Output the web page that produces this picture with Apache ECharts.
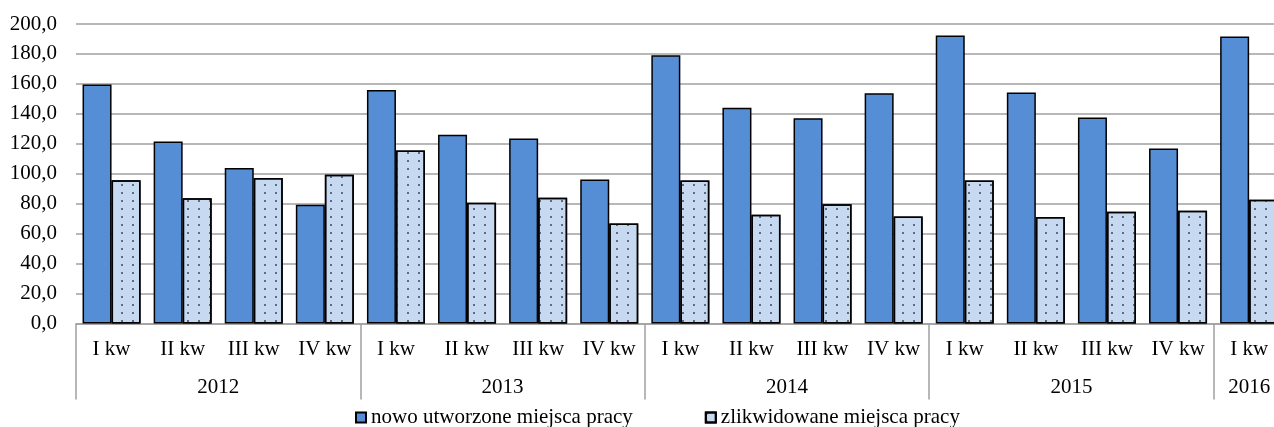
<!DOCTYPE html>
<html>
<head>
<meta charset="utf-8">
<script src="https://cdn.jsdelivr.net/npm/echarts@6/dist/echarts.min.js"></script>
<style>
html,body{margin:0;padding:0;background:#fff;}
#chart{width:1274px;height:427px;}
</style>
</head>
<body>
<div id="chart"></div>
<script>
// ---- data ----
var years = ['2012', '2013', '2014', '2015', '2016'];
var quartersPerYear = [4, 4, 4, 4, 1];
var quarterNames = ['I kw', 'II kw', 'III kw', 'IV kw'];
var seriesNames = ['nowo utworzone miejsca pracy', 'zlikwidowane miejsca pracy'];
var nowo = [159.6, 121.5, 103.8, 79.3, 156.0, 126.0, 123.5, 96.2, 179.1, 144.0, 137.1, 153.7, 192.4, 154.2, 137.5, 116.9, 191.7];
var zlikw = [95.7, 83.7, 97.1, 99.4, 115.5, 80.7, 84.0, 66.7, 95.5, 72.7, 79.7, 71.5, 95.5, 71.1, 74.7, 75.3, 82.7];
var yTicks = [0, 20, 40, 60, 80, 100, 120, 140, 160, 180, 200];

// ---- derived ----
var categories = [];
var yearCenters = {};
var pos = 0;
years.forEach(function (y, i) {
  for (var q = 0; q < quartersPerYear[i]; q++) categories.push(quarterNames[q]);
  yearCenters[(pos + quartersPerYear[i] / 2).toFixed(1)] = y;
  pos += quartersPerYear[i];
});
var total = categories.length;

var FONT = 'Liberation Serif';
var GRAY = '#a0a0a0';

var chart = echarts.init(document.getElementById('chart'), null, {renderer: 'canvas'});
chart.setOption({
  animation: false,
  textStyle: {fontFamily: FONT},
  grid: {left: 76, top: 24, bottom: 103.5, width: 71.1 * total, containLabel: false, outerBoundsMode: 'none'},
  legend: {
    left: 355, top: 407, padding: 0,
    itemWidth: 10, itemHeight: 10, itemGap: 72, icon: 'rect',
    textStyle: {fontFamily: FONT, fontSize: 21, color: '#000'},
    data: seriesNames
  },
  xAxis: [
    {
      type: 'category', position: 'bottom', data: categories,
      axisLine: {show: true, lineStyle: {color: GRAY, width: 1.5}},
      axisTick: {show: true, length: 76, lineStyle: {color: GRAY, width: 1.5},
        interval: function (index) {
          var p = 0;
          for (var i = 0; i < quartersPerYear.length; i++) { if (index === p) return true; p += quartersPerYear[i]; }
          return index === p;
        }},
      axisLabel: {interval: 0, margin: 15, color: '#000', fontFamily: FONT, fontSize: 21},
      splitLine: {show: false}
    },
    {
      type: 'value', position: 'bottom', min: 0, max: total, interval: 0.5,
      axisLine: {show: false}, axisTick: {show: false}, splitLine: {show: false},
      axisLabel: {
        margin: 53, color: '#000', fontFamily: FONT, fontSize: 21,
        showMinLabel: true, showMaxLabel: true,
        formatter: function (v) { return yearCenters[v.toFixed(1)] || ''; }
      }
    }
  ],
  yAxis: {
    type: 'value', min: 0, max: 200, interval: 20,
    axisLine: {show: false}, axisTick: {show: false},
    splitLine: {show: true, lineStyle: {color: GRAY, width: 1.5}},
    axisLabel: {
      margin: 19, color: '#000', fontFamily: FONT, fontSize: 21,
      formatter: function (v) { return yTicks.indexOf(v) >= 0 ? v.toFixed(1).replace('.', ',') : ''; }
    }
  },
  series: [
    {
      name: seriesNames[0], type: 'bar', xAxisIndex: 0, data: nowo,
      barGap: '0%', barCategoryGap: '18.4%',
      itemStyle: {color: '#558ED5', borderColor: '#000', borderWidth: 1.5}
    },
    {
      name: seriesNames[1], type: 'bar', xAxisIndex: 0, data: zlikw,
      barGap: '0%', barCategoryGap: '18.4%',
      itemStyle: {
        color: '#C6D9F1', borderColor: '#000', borderWidth: 1.5,
        decal: {symbol: 'circle', symbolSize: 1, color: '#3a4660',
          dashArrayX: [[2, 8.7]], dashArrayY: [2, 5.5], rotation: 0}
      }
    }
  ]
});
</script>
</body>
</html>
